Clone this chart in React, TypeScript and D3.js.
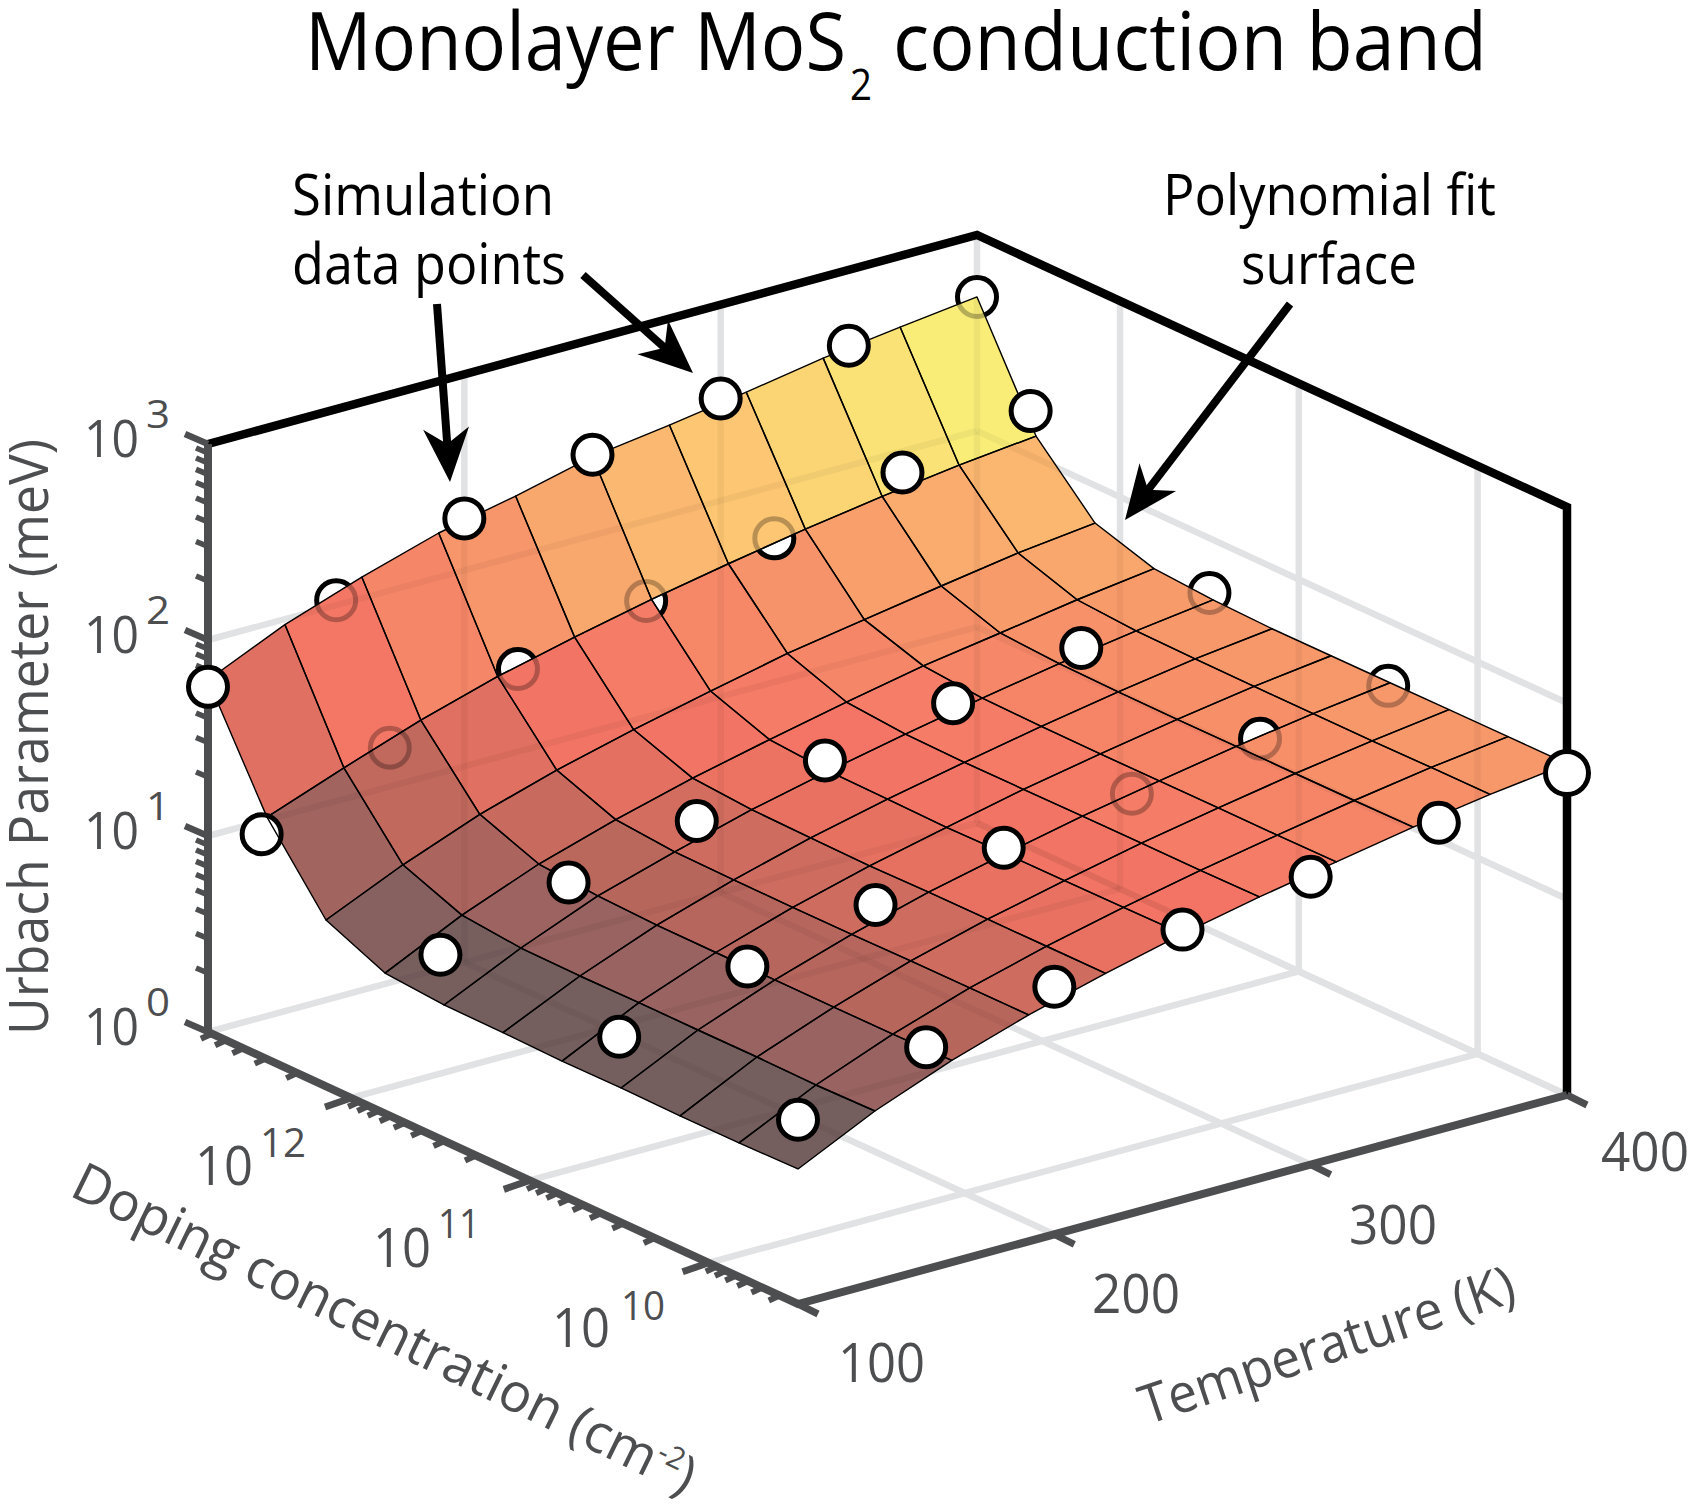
import React from "react";
import * as d3 from "d3";

// ---------- data ----------
const meshTemps = [100, 130, 160, 190, 220, 250, 280, 310, 340, 370, 400];
const meshDopExp = [9.5, 9.83, 10.16, 10.49, 10.82, 11.15, 11.48, 11.81, 12.14, 12.47, 12.8];
// log10(meV), one row per doping node, one column per temperature node
const surfaceRow0 = [0.689, 0.878, 1.03, 1.155, 1.26, 1.355, 1.437, 1.509, 1.58, 1.64, 1.69];
const surfaceRow1 = [0.683, 0.872, 1.025, 1.154, 1.26, 1.352, 1.434, 1.507, 1.577, 1.639, 1.69];
const surfaceRow2 = [0.682, 0.876, 1.024, 1.153, 1.259, 1.349, 1.434, 1.507, 1.576, 1.636, 1.689];
const surfaceRow3 = [0.686, 0.875, 1.024, 1.15, 1.259, 1.348, 1.433, 1.506, 1.576, 1.636, 1.687];
const surfaceRow4 = [0.684, 0.876, 1.025, 1.149, 1.254, 1.344, 1.431, 1.505, 1.575, 1.636, 1.686];
const surfaceRow5 = [0.691, 0.873, 1.026, 1.15, 1.258, 1.349, 1.43, 1.507, 1.576, 1.638, 1.685];
const surfaceRow6 = [0.693, 0.877, 1.036, 1.154, 1.263, 1.353, 1.435, 1.512, 1.582, 1.642, 1.694];
const surfaceRow7 = [0.717, 0.906, 1.06, 1.18, 1.285, 1.375, 1.46, 1.538, 1.599, 1.662, 1.714];
const surfaceRow8 = [0.849, 1.024, 1.175, 1.294, 1.394, 1.484, 1.569, 1.635, 1.7, 1.762, 1.808];
const surfaceRow9 = [1.235, 1.38, 1.517, 1.633, 1.727, 1.813, 1.888, 1.958, 2.018, 2.071, 2.113];
const surfaceRow10 = [1.796, 1.972, 2.108, 2.226, 2.308, 2.402, 2.457, 2.518, 2.585, 2.637, 2.684];
const surfaceRows = [surfaceRow0, surfaceRow1, surfaceRow2, surfaceRow3, surfaceRow4, surfaceRow5, surfaceRow6, surfaceRow7, surfaceRow8, surfaceRow9, surfaceRow10];
const rowToneOffset = [0, 0, 0, 0, 0, 0, 0, 0, 0.13, 0.32];

const pointTemps = [100, 150, 200, 250, 300, 350, 400];
const pointDopExp = [9.5, 10.5, 11.5, 12.5, 12.8];
const pointsRow0 = [0.94, 1.132, 1.263, 1.377, 1.469, 1.567, 1.643];
const pointsRow1 = [0.943, 1.124, 1.26, 1.374, 1.472, 1.575, 1.667];
const pointsRow2 = [0.941, 1.132, 1.268, 1.399, 1.513, 1.617, 1.72];
const pointsRow3 = [1.135, 1.399, 1.623, 1.792, 1.934, 2.092, 2.228];
const pointsRow4 = [1.761, 2.025, 2.265, 2.412, 2.521, 2.613, 2.684];
const pointRows = [pointsRow0, pointsRow1, pointsRow2, pointsRow3, pointsRow4];
// points that lie behind the surface: "doping row-temperature column"
const hiddenPoints = ["1-4", "1-5", "1-6", "2-6", "3-1", "3-2", "3-3", "3-4", "4-1", "4-6"];
// hidden points that still show through one facet: point, facet column, facet row
const pointThroughFacet: [string, number, number][] = [["1-5", 8, 3], ["3-2", 3, 9], ["3-3", 5, 8], ["3-4", 6, 8]];

const toneStops = [0.79, 0.96, 1.09, 1.21, 1.32, 1.41, 1.51, 1.67, 1.88, 2.06];
const toneColors = ["#755f5e", "#9a6360", "#b7665c", "#cf6c5f", "#ec7262", "#f47565", "#f68067", "#f7996b", "#fdc572", "#f9ee78"];

const tempTicks = [100, 200, 300, 400];
const zDecades = [0, 1, 2, 3];
const dopDecades = [10, 11, 12];

// ---------- scales ----------
const tempScale = d3.scaleLinear().domain([100, 400]).range([0, 1]);
const dopScale = d3.scaleLog().domain([10 ** 9.5, 10 ** 12.8]).range([0, 1]);
const zScale = d3.scaleLog().domain([1, 1000]).range([0, 1]);
const tone = d3.scaleLinear<string>().domain(toneStops).range(toneColors).clamp(true);

const ORIGIN = [798, 1304];
const XVEC = [769, -209];
const YVEC = [-590, -272];
const ZH = 588;
const project = (T: number, n: number, meV: number): [number, number] => {
  const a = tempScale(T), b = dopScale(n), c = zScale(meV);
  return [ORIGIN[0] + a * XVEC[0] + b * YVEC[0], ORIGIN[1] + a * XVEC[1] + b * YVEC[1] - c * ZH];
};

const T0 = 100, T1 = 400, N0 = 10 ** 9.5, N1 = 10 ** 12.8;
const GRAY = "#4d4e50";
const GRID = "#e1e2e3";
const FONT = "'Open Sans', 'Noto Sans', sans-serif";

const gridSegments = (): [number, number][][] => {
  const out: [number, number][][] = [];
  for (const t of [200, 300, 400]) {
    out.push([project(t, N0, 1), project(t, N1, 1)]);
  }
  for (const t of [200, 300]) {
    out.push([project(t, N1, 1), project(t, N1, 1000)]);
  }
  out.push([project(400, N1, 1), project(400, N1, 1000)]);
  for (const e of dopDecades) {
    const n = 10 ** e;
    out.push([project(T0, n, 1), project(T1, n, 1)]);
    out.push([project(T1, n, 1), project(T1, n, 1000)]);
  }
  out.push([project(T0, N1, 1), project(T1, N1, 1)]);
  out.push([project(T1, N1, 1), project(T1, N0, 1)]);
  for (const z of [10, 100]) {
    out.push([project(T0, N1, z), project(T1, N1, z)]);
    out.push([project(T1, N1, z), project(T1, N0, z)]);
  }
  return out;
};

const line = d3.line();

const Arrow = ({ from, to }: { from: number[]; to: number[] }) => {
  const dx = to[0] - from[0], dy = to[1] - from[1];
  const L = Math.hypot(dx, dy);
  const ux = dx / L, uy = dy / L, px = -uy, py = ux;
  const at = (along: number, side: number) => [to[0] - ux * along + px * side, to[1] - uy * along + py * side].join(",");
  return (
    <g>
      <line x1={from[0]} y1={from[1]} x2={to[0] - ux * 25} y2={to[1] - uy * 25} stroke="#000" strokeWidth={8} />
      <polygon points={[at(0, 0), at(54, 23), at(38, 0), at(54, -23)].join(" ")} fill="#000" />
    </g>
  );
};

const Txt = ({ x, y, size, len, fill = GRAY, anchor = "start", children, transform }: any) => (
  <text x={x} y={y} fontSize={size} fill={fill} textAnchor={anchor} fontFamily={FONT} textLength={len} lengthAdjust="spacingAndGlyphs" transform={transform}>
    {children}
  </text>
);

const facetPath = (i: number, j: number) => {
  const idx: [number, number][] = [[i, j], [i + 1, j], [i + 1, j + 1], [i, j + 1]];
  return line(idx.map(([a, b]) => project(meshTemps[a], 10 ** meshDopExp[b], 10 ** surfaceRows[b][a]))) + "Z";
};

export default function App() {
  const segs = gridSegments();
  const quads: { d: string; color: string }[] = [];
  for (let j = 0; j < 10; j++) {
    for (let i = 0; i < 10; i++) {
      const vals = [surfaceRows[j][i], surfaceRows[j][i + 1], surfaceRows[j + 1][i + 1], surfaceRows[j + 1][i]];
      quads.push({ d: facetPath(i, j), color: tone(d3.mean(vals)! - rowToneOffset[j]) });
    }
  }
  const points = pointRows.flatMap((row, r) =>
    row.map((v, c) => {
      const [x, y] = project(pointTemps[c], 10 ** pointDopExp[r], 10 ** v);
      return { key: `${r}-${c}`, x, y, hidden: hiddenPoints.includes(`${r}-${c}`), big: r === 0 && c === 6 };
    })
  );
  const zTicks = zScale.ticks();
  const dTicks = dopScale.ticks();
  const isDecade = (v: number) => Math.abs(Math.log10(v) - Math.round(Math.log10(v))) < 1e-6;
  const frame = [project(T0, N1, 1000), project(T1, N1, 1000), project(T1, N0, 1000), project(T1, N0, 1)];

  return (
    <svg width={1693} height={1511} viewBox="0 0 1693 1511" style={{ position: "absolute", left: 0, top: 0, background: "#fff" }}>
      <defs>
        <clipPath id="surf">
          {quads.map((q, i) => <path key={i} d={q.d} />)}
        </clipPath>
        {pointThroughFacet.map(([k, i, j]) => (
          <clipPath id={`facet-${k}`} key={k}><path d={facetPath(i, j)} /></clipPath>
        ))}
      </defs>
      {/* title */}
      <Txt x={305} y={70} size={80} len={541} fill="#000">Monolayer MoS</Txt>
      <Txt x={850} y={100} size={44} len={22} fill="#000">2</Txt>
      <Txt x={893} y={70} size={80} len={594} fill="#000">conduction band</Txt>

      {/* grid */}
      <g stroke={GRID} strokeWidth={6.5} fill="none">
        {segs.map((s, i) => <path key={i} d={line(s)!} />)}
      </g>
      {/* frame */}
      <path d={line(frame)!} fill="none" stroke="#000" strokeWidth={8.5} strokeLinejoin="miter" />
      {/* axes */}
      <g stroke={GRAY} fill="none">
        <path d={line([project(T0, N1, 1000), project(T0, N1, 1), project(T0, N0, 1), project(T1, N0, 1)])!} strokeWidth={8} />
        {zTicks.map((v, i) => {
          const [x, y] = project(T0, N1, v);
          const M = isDecade(v);
          return <line key={i} x1={x} y1={y} x2={x + (M ? -23 : -12)} y2={y + (M ? -10 : -5)} strokeWidth={M ? 6.5 : 5.5} />;
        })}
        {dTicks.map((v, i) => {
          const [x, y] = project(T0, v, 1);
          const M = isDecade(v);
          return <line key={i} x1={x} y1={y} x2={x + (M ? -26 : -11)} y2={y + (M ? 9 : 5)} strokeWidth={M ? 7 : 6} />;
        })}
        {tempTicks.map((v, i) => {
          const [x, y] = project(v, N0, 1);
          return <line key={i} x1={x} y1={y} x2={x + 20} y2={y + 10} strokeWidth={7} />;
        })}
      </g>

      {/* points behind the surface */}
      <g fill="#fff" stroke="#000" strokeWidth={5}>
        {points.filter(p => p.hidden).map(p => <circle key={p.key} cx={p.x} cy={p.y} r={19.5} />)}
      </g>

      {/* surface */}
      <g>
        {quads.map((q, i) => <path key={i} d={q.d} fill={q.color} stroke={q.color} strokeWidth={0.5} />)}
      </g>
      <g clipPath="url(#surf)" stroke="#000" strokeOpacity={0.045} strokeWidth={6.5} fill="none">
        {segs.map((s, i) => <path key={i} d={line(s)!} />)}
      </g>
      <g clipPath="url(#surf)" stroke="#000" strokeOpacity={0.27} strokeWidth={5} fill="none">
        {points.filter(p => p.hidden).map(p => <circle key={p.key} cx={p.x} cy={p.y} r={19.5} />)}
      </g>
      {pointThroughFacet.map(([k]) => {
        const p = points.find(q => q.key === k)!;
        return <circle key={k} cx={p.x} cy={p.y} r={19.5} fill="#fff" stroke="#000" strokeWidth={5} clipPath={`url(#facet-${k})`} />;
      })}
      <g fill="#fff" stroke="#000" strokeWidth={5}>
        {points.filter(p => p.key === "3-0").map(p => <circle key={p.key} cx={p.x} cy={p.y} r={19.5} />)}
      </g>
      <g fill="none" stroke="#000" strokeWidth={1.4} strokeLinejoin="round">
        {quads.map((q, i) => <path key={i} d={q.d} />)}
      </g>
      <g fill="#fff" stroke="#000" strokeWidth={5}>
        {points.filter(p => !p.hidden && p.key !== "3-0").map(p => <circle key={p.key} cx={p.x} cy={p.y} r={p.big ? 21.5 : 19.5} />)}
      </g>

      {/* z tick labels */}
      {zDecades.map(e => {
        const y = project(T0, N1, 10 ** e)[1];
        return (
          <g key={e}>
            <Txt x={84} y={y + 13} size={52} len={55}>10</Txt>
            <Txt x={146} y={y - 16} size={38} len={24}>{String(e)}</Txt>
          </g>
        );
      })}
      {/* doping tick labels */}
      <Txt x={195} y={1185} size={54} len={58}>10</Txt>
      <Txt x={260} y={1157} size={40} len={46}>12</Txt>
      <Txt x={373} y={1267} size={54} len={58}>10</Txt>
      <Txt x={438} y={1238} size={40} len={42}>11</Txt>
      <Txt x={552} y={1347} size={54} len={58}>10</Txt>
      <Txt x={621} y={1320} size={40} len={44}>10</Txt>
      {/* temperature tick labels */}
      <Txt x={838} y={1382} size={54} len={87}>100</Txt>
      <Txt x={1092} y={1313} size={54} len={88}>200</Txt>
      <Txt x={1349} y={1244} size={54} len={88}>300</Txt>
      <Txt x={1601} y={1171} size={54} len={88}>400</Txt>

      {/* axis titles */}
      <Txt x={0} y={0} size={54} len={596} transform="translate(48,1035) rotate(-90)">Urbach Parameter (meV)</Txt>
      <text transform="translate(68,1195) rotate(26)" fontSize={54} fill={GRAY} fontFamily={FONT} textLength={686} lengthAdjust="spacingAndGlyphs">
        Doping concentration (cm<tspan dy={-20} fontSize={30}>-2</tspan><tspan dy={20}>)</tspan>
      </text>
      <Txt x={0} y={0} size={54} len={392} transform="translate(1147,1425) rotate(-18.5)">Temperature (K)</Txt>

      {/* annotations */}
      <Txt x={292} y={215} size={56} len={262} fill="#000">Simulation</Txt>
      <Txt x={292} y={284} size={56} len={274} fill="#000">data points</Txt>
      <Txt x={1163} y={215} size={56} len={333} fill="#000">Polynomial fit</Txt>
      <Txt x={1241} y={284} size={56} len={176} fill="#000">surface</Txt>
      <Arrow from={[437, 304]} to={[450, 482]} />
      <Arrow from={[583, 275]} to={[693, 373]} />
      <Arrow from={[1290, 304]} to={[1125, 520]} />
    </svg>
  );
}
